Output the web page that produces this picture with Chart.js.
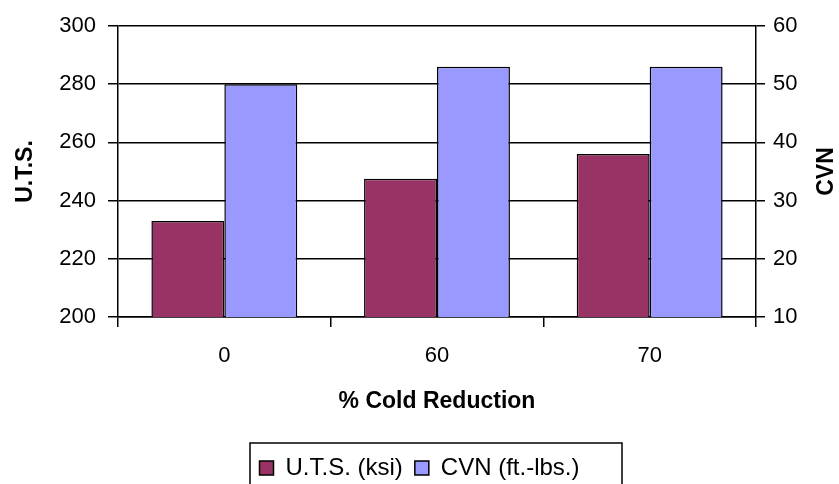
<!DOCTYPE html>
<html>
<head>
<meta charset="utf-8">
<script src="https://cdn.jsdelivr.net/npm/chart.js@4.4.1/dist/chart.umd.min.js"></script>
<style>
html, body { margin: 0; padding: 0; background: #fff; }
</style>
</head>
<body>
<canvas id="myChart" width="839" height="484"></canvas>
<script>
// data
const categories = ["0", "60", "70"];
const utsValues = [233, 247.5, 256];
const cvnValues = [50, 53, 53];
const utsRange = [200, 300, 20];
const cvnRange = [10, 60, 10];

const FONT = "'Liberation Sans', Arial, sans-serif";
const LINE = 1.5;

// right axis title reads bottom to top, so draw it by hand
const cvnTitle = {
    id: "cvnTitle",
    afterDraw(chart) {
        const ctx = chart.ctx;
        const area = chart.chartArea;
        const s = chart.scales.y1;
        ctx.save();
        ctx.translate(s.right - 12, (area.top + area.bottom) / 2);
        ctx.rotate(-Math.PI / 2);
        ctx.font = "bold 23px " + FONT;
        ctx.fillStyle = "#000";
        ctx.textAlign = "center";
        ctx.textBaseline = "middle";
        ctx.fillText("CVN", 0, 0);
        ctx.restore();
    }
};

// frame round the legend, like the Excel one
const legendBox = {
    id: "legendBox",
    afterDraw(chart) {
        const boxes = chart.legend.legendHitBoxes;
        if (!boxes || !boxes.length) return;
        let left = Infinity, right = -Infinity, top = Infinity;
        boxes.forEach(function (b) {
            left = Math.min(left, b.left);
            right = Math.max(right, b.left + b.width);
            top = Math.min(top, b.top);
        });
        const ctx = chart.ctx;
        ctx.save();
        ctx.strokeStyle = "#000";
        ctx.lineWidth = LINE;
        const x0 = Math.round(left - 10);
        const y0 = Math.round(top - 13);
        ctx.strokeRect(x0, y0, Math.round(right + 43) - x0, chart.height - y0 + 20);
        ctx.restore();
    }
};

const ctx = document.getElementById("myChart").getContext("2d");
const myChart = new Chart(ctx, {
    type: "bar",
    data: {
        labels: categories,
        datasets: [{
            label: "U.T.S. (ksi)",
            data: utsValues,
            yAxisID: "y",
            backgroundColor: "#993366",
            borderColor: "#000",
            borderWidth: LINE
        },
        {
            label: "CVN (ft.-lbs.)",
            data: cvnValues,
            yAxisID: "y1",
            backgroundColor: "#9999ff",
            borderColor: "#000",
            borderWidth: LINE
        }]
    },
    options: {
        responsive: false,
        animation: false,
        categoryPercentage: 0.686,
        barPercentage: 1.0,
        layout: { padding: { top: 26, left: 0, right: 0, bottom: -6 } },
        plugins: {
            tooltip: { enabled: false },
            legend: {
                position: "bottom",
                labels: {
                    font: { family: FONT, size: 24 },
                    color: "#000",
                    boxWidth: 14,
                    boxHeight: 14,
                    padding: 12
                }
            }
        },
        scales: {
            x: {
                grid: {
                    offset: true,
                    drawOnChartArea: false,
                    tickLength: 10,
                    color: "#000",
                    lineWidth: LINE
                },
                border: { color: "#000", width: LINE },
                ticks: {
                    font: { family: FONT, size: 22 },
                    color: "#000",
                    padding: 16
                },
                title: {
                    display: true,
                    text: "% Cold Reduction",
                    font: { family: FONT, size: 23, weight: "bold" },
                    color: "#000",
                    padding: { top: 2, bottom: 29 }
                }
            },
            y: {
                position: "left",
                min: utsRange[0],
                max: utsRange[1],
                ticks: {
                    stepSize: utsRange[2],
                    font: { family: FONT, size: 22 },
                    color: "#000",
                    padding: 12
                },
                grid: { color: "#000", lineWidth: LINE, tickLength: 10 },
                border: { color: "#000", width: LINE },
                title: {
                    display: true,
                    text: "U.T.S.",
                    font: { family: FONT, size: 23, weight: "bold" },
                    color: "#000",
                    padding: { top: 12, bottom: 0 }
                },
                afterFit(scale) { scale.width = 118; }
            },
            y1: {
                position: "right",
                min: cvnRange[0],
                max: cvnRange[1],
                ticks: {
                    stepSize: cvnRange[2],
                    font: { family: FONT, size: 22 },
                    color: "#000",
                    padding: 8
                },
                grid: { drawOnChartArea: false, color: "#000", lineWidth: LINE, tickLength: 9 },
                border: { color: "#000", width: LINE },
                afterFit(scale) { scale.width = 83; }
            }
        }
    },
    plugins: [cvnTitle, legendBox]
});
</script>
</body>
</html>
